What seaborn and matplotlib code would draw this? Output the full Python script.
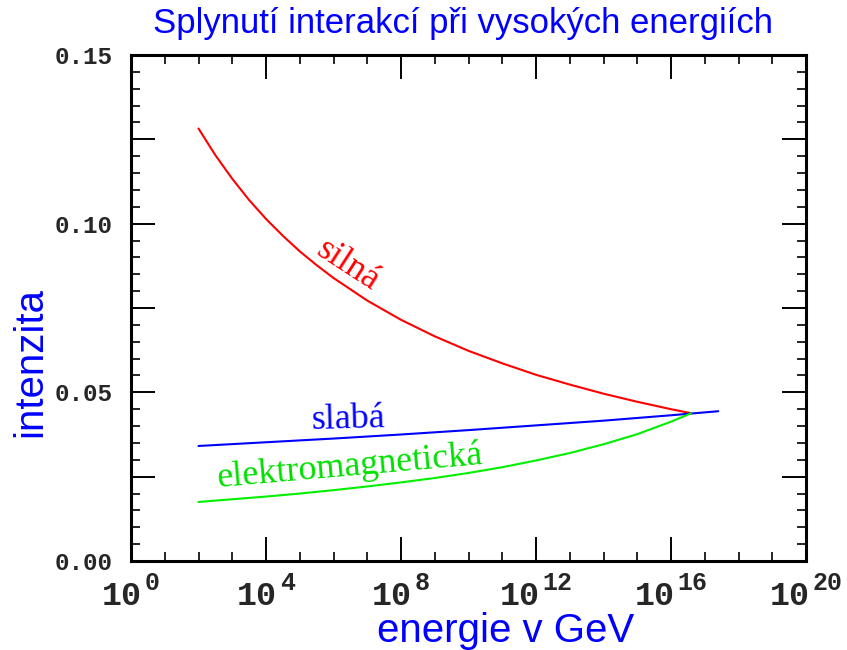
import numpy as np
import pandas as pd
import matplotlib
matplotlib.use("Agg")
import matplotlib.pyplot as plt
from matplotlib.ticker import MultipleLocator, FixedLocator, NullFormatter
from matplotlib.transforms import offset_copy
import seaborn as sns

# ---- data (log10 of energy in GeV, coupling strength) ----
strong_logE = [2, 2.5, 3, 3.5, 4, 4.5, 5, 5.5, 6, 7, 8, 9, 10, 11, 12, 13, 14, 15, 16, 16.6]
strong_val = [0.1282, 0.1203, 0.1133, 0.1070, 0.1014, 0.0964, 0.0918, 0.0877, 0.0839,
              0.0772, 0.0715, 0.0666, 0.0623, 0.0586, 0.0552, 0.0523, 0.0496, 0.0472,
              0.0450, 0.0438]

weak_logE = [2, 4, 6, 8, 10, 12, 14, 16, 17.4]
weak_val = [0.0341, 0.0352, 0.0363, 0.0375, 0.0388, 0.0402, 0.0416, 0.0432, 0.0444]

em_logE = [2, 3, 4, 5, 6, 7, 8, 9, 10, 11, 12, 13, 14, 15, 16, 16.6]
em_val = [0.0175, 0.0183, 0.0191, 0.0200, 0.0210, 0.0221, 0.0233, 0.0246,
          0.0261, 0.0278, 0.0298, 0.0320, 0.0346, 0.0376, 0.0413, 0.0438]

x_major = [0, 4, 8, 12, 16, 20]
x_major_labels = ["0", "4", "8", "12", "16", "20"]
y_major = [0.00, 0.025, 0.05, 0.075, 0.10, 0.125, 0.15]
y_tick_labels = ["0.00", "", "0.05", "", "0.10", "", "0.15"]

title = "Splynutí interakcí při vysokých energiích"
xlabel = "energie v GeV"
ylabel = "intenzita"

sns.set_style("white")
plt.rcParams["font.family"] = ["Liberation Sans", "DejaVu Sans"]

fig = plt.figure(figsize=(8.47, 6.5), dpi=100)
ax = fig.add_axes([131/847, 1 - 561/650, (806-131)/847, (561-55)/650])

df = pd.concat([
    pd.DataFrame({"logE": strong_logE, "val": strong_val, "s": "silná"}),
    pd.DataFrame({"logE": weak_logE, "val": weak_val, "s": "slabá"}),
    pd.DataFrame({"logE": em_logE, "val": em_val, "s": "elektromagnetická"}),
])
palette = {"silná": "#ff0000", "slabá": "#0000ff", "elektromagnetická": "#00f000"}
sns.lineplot(data=df, x="logE", y="val", hue="s", palette=palette, ax=ax,
             legend=False, linewidth=1.5, sort=True, estimator=None)
ax.set_xlabel("")
ax.set_ylabel("")

ax.set_xlim(0, 20)
ax.set_ylim(0, 0.15)

ax.xaxis.set_major_locator(FixedLocator(x_major))
ax.xaxis.set_minor_locator(MultipleLocator(1))
ax.xaxis.set_major_formatter(NullFormatter())
ax.yaxis.set_major_locator(FixedLocator(y_major))
ax.yaxis.set_minor_locator(MultipleLocator(0.005))
ax.set_yticklabels(y_tick_labels)

ax.tick_params(which="both", direction="in", top=True, right=True, bottom=True, left=True,
               color="black")
ax.tick_params(which="major", length=17, width=1.4)
ax.tick_params(which="minor", length=6.5, width=1.2)
ax.tick_params(axis="y", pad=13)
for lab in ax.get_yticklabels():
    lab.set_fontfamily(["Liberation Mono", "DejaVu Sans Mono"])
    lab.set_fontweight("bold")
    lab.set_fontsize(17.5)

# x tick labels: "10" followed by a raised exponent, the pair centred on the tick
mono = ["Liberation Mono", "DejaVu Sans Mono"]
base_w, gap, exp_char_w = 40, 3, 15  # pixel widths of the monospace glyphs
for xv, ex in zip(x_major, x_major_labels):
    total = base_w + gap + exp_char_w * len(ex)
    right_of_base = -total / 2 + base_w
    base_tr = offset_copy(ax.get_xaxis_transform(), fig=fig, x=right_of_base, y=-44, units="dots")
    exp_tr = offset_copy(ax.get_xaxis_transform(), fig=fig, x=right_of_base + gap, y=-29, units="dots")
    ax.text(xv, 0, "10", transform=base_tr, ha="right", va="baseline",
            fontsize=24, fontweight="bold", family=mono, clip_on=False)
    ax.text(xv, 0, ex, transform=exp_tr, ha="left", va="baseline",
            fontsize=18, fontweight="bold", family=mono, clip_on=False)

for sp in ax.spines.values():
    sp.set_visible(True)
    sp.set_color("black")
    sp.set_linewidth(2.2)

fig.text(506/847, 1 - 631/650, xlabel, color="#0000ff", fontsize=29,
         ha="center", va="center")
fig.text(30/847, 1 - 362/650, ylabel, color="#0000ff", fontsize=29,
         ha="center", va="center", rotation=90)
fig.text(463/847, 1 - 23/650, title, color="#0000ff", fontsize=25,
         ha="center", va="center")

serif = ["Liberation Serif", "DejaVu Serif"]
ax.text(6.28, 0.0854, "silná", color="#ff0000", fontsize=26, family=serif,
        rotation=-33, ha="center", va="baseline", rotation_mode="anchor")
ax.text(6.43, 0.0394, "slabá", color="#0000ff", fontsize=26, family=serif,
        rotation=1.5, ha="center", va="baseline", rotation_mode="anchor")
ax.text(6.52, 0.0255, "elektromagnetická", color="#00e000", fontsize=26, family=serif,
        rotation=5, ha="center", va="baseline", rotation_mode="anchor")

fig.savefig("out.png", dpi=100, facecolor="white")
